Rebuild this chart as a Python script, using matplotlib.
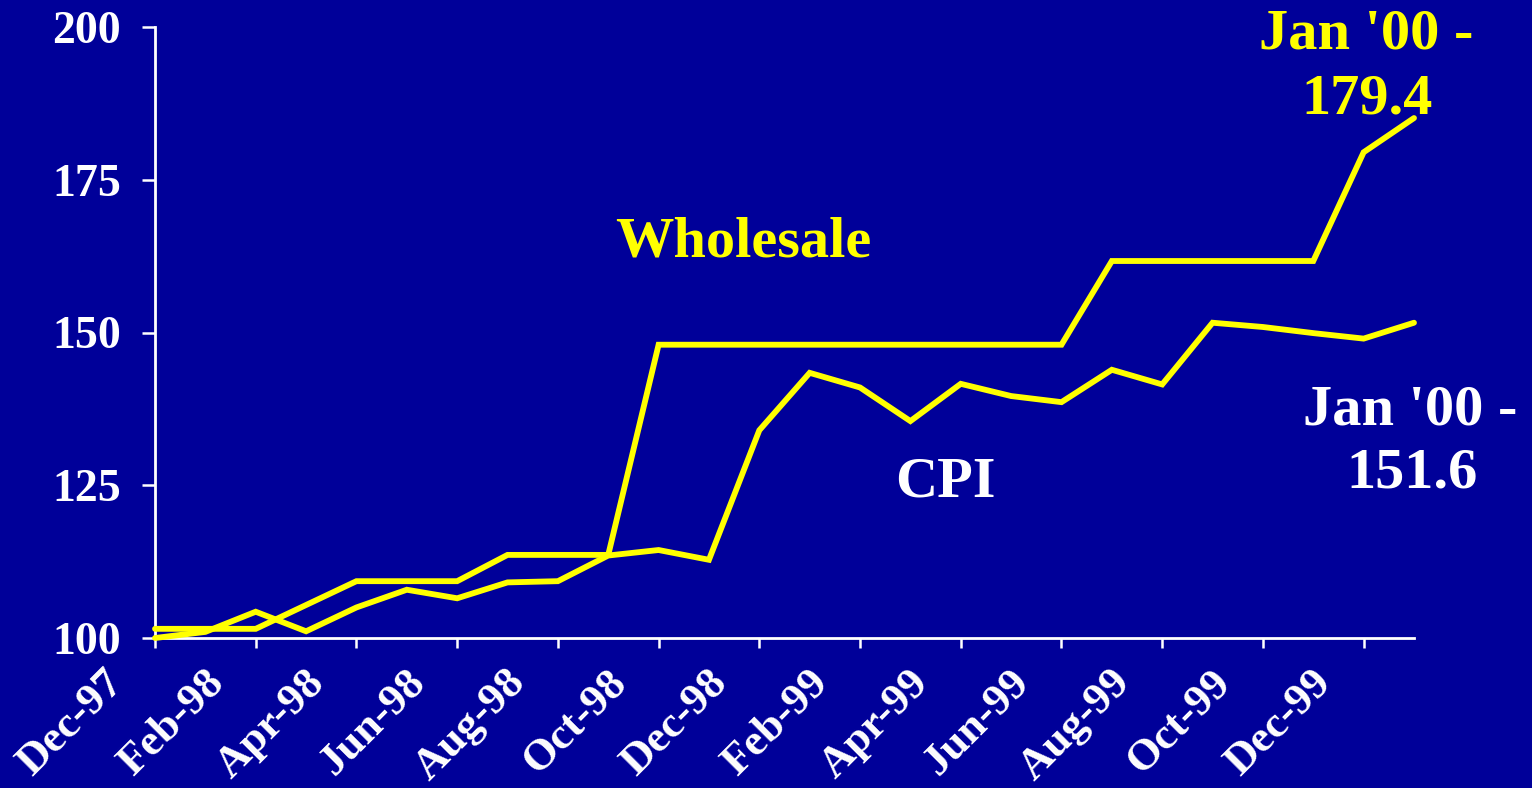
import matplotlib
matplotlib.use("Agg")
import matplotlib.pyplot as plt
import matplotlib.transforms as mtransforms

months = ["Dec-97", "Jan-98", "Feb-98", "Mar-98", "Apr-98", "May-98", "Jun-98",
          "Jul-98", "Aug-98", "Sep-98", "Oct-98", "Nov-98", "Dec-98", "Jan-99",
          "Feb-99", "Mar-99", "Apr-99", "May-99", "Jun-99", "Jul-99", "Aug-99",
          "Sep-99", "Oct-99", "Nov-99", "Dec-99", "Jan-00"]
wholesale = [101.5, 101.5, 101.5, 105.4, 109.3, 109.3, 109.3, 113.6, 113.6, 113.6,
             148.0, 148.0, 148.0, 148.0, 148.0, 148.0, 148.0, 148.0, 148.0, 161.7,
             161.7, 161.7, 161.7, 161.7, 179.5, 185.1]
cpi = [100.0, 101.0, 104.3, 101.1, 105.0, 107.9, 106.5, 109.1, 109.3, 113.5,
       114.4, 112.8, 134.0, 143.4, 141.0, 135.5, 141.6, 139.6, 138.6, 143.9,
       141.5, 151.6, 150.9, 149.9, 149.0, 151.6]
yticks = [100, 125, 150, 175, 200]

BG = "#000099"
YEL = "#FFFF00"
FONT = "Liberation Serif"

fig = plt.figure(figsize=(15.32, 7.88), dpi=100, facecolor=BG)
ax = fig.add_axes([155/1532, 1-638/788, (1414-155)/1532, (638-27)/788])
ax.set_facecolor(BG)

x = list(range(len(months)))
ax.plot(x, wholesale, color=YEL, lw=4.2, solid_capstyle="round", solid_joinstyle="miter", clip_on=False, zorder=3)
ax.plot(x, cpi, color=YEL, lw=4.2, solid_capstyle="round", solid_joinstyle="miter", clip_on=False, zorder=3)

ax.set_xlim(0, len(months) - 1)
ax.set_ylim(100, 200)

for s in ["top", "right"]:
    ax.spines[s].set_visible(False)
for s in ["left", "bottom"]:
    ax.spines[s].set_color("white")
    ax.spines[s].set_linewidth(2.0)
    ax.spines[s].set_zorder(2)

ax.set_yticks(yticks)
ax.set_yticklabels([str(v) for v in yticks], fontsize=33, fontweight="bold",
                   family=FONT, color="white")
ax.tick_params(axis="y", direction="out", length=9.5, width=1.8, color="white", pad=15)

xt = x[::2]
ax.set_xticks(xt)
ax.set_xticklabels(months[::2], fontsize=32, fontweight="bold", family=FONT,
                   color="white", rotation=45, ha="right", va="top")
ax.tick_params(axis="x", direction="out", length=7.5, width=1.8, color="white", pad=10)
off = mtransforms.ScaledTranslation(-24/100, 0, fig.dpi_scale_trans)
for lbl in ax.get_xticklabels():
    lbl.set_transform(lbl.get_transform() + off)

tk = dict(fontsize=42, fontweight="bold", family=FONT, ha="center", va="baseline")
ax.text(11.69, 162.4, "Wholesale", color=YEL, **tk)
ax.text(15.70, 123.1, "CPI", color="white", **tk)
ax.text(24.05, 196.4, "Jan '00 -", color=YEL, **tk)
ax.text(24.07, 185.9, "179.4", color=YEL, **tk)
ax.text(24.93, 134.9, "Jan '00 -", color="white", **tk)
ax.text(24.97, 124.7, "151.6", color="white", **tk)

fig.savefig("out.png", dpi=100, facecolor=BG)
